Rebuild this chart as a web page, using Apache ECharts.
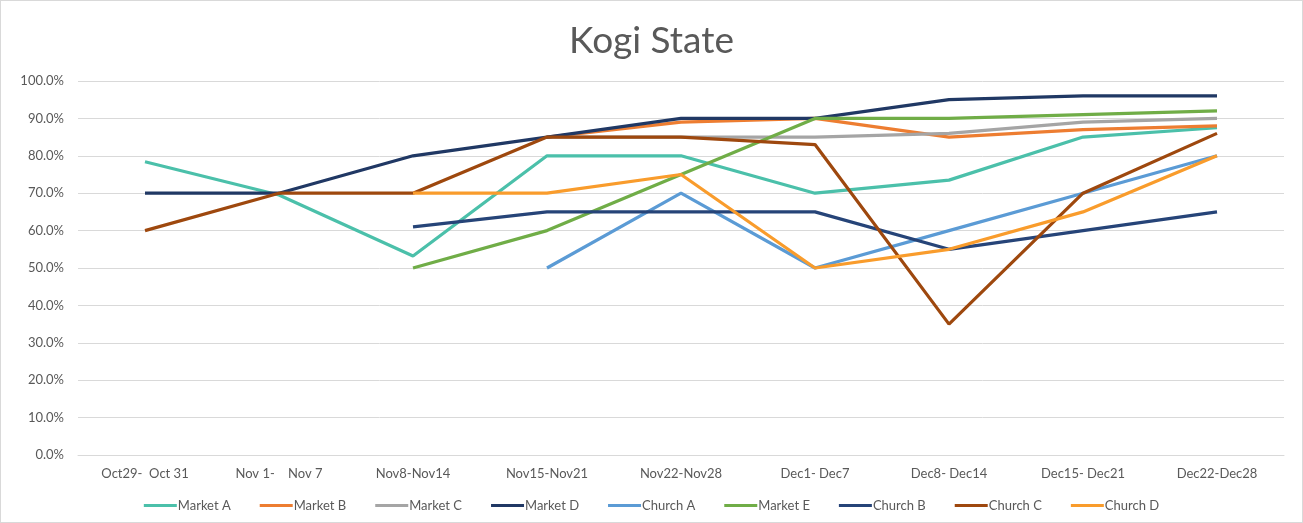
<!DOCTYPE html>
<html>
<head>
<meta charset="utf-8">
<title>Kogi State</title>
<script src="https://cdn.jsdelivr.net/npm/echarts@6/dist/echarts.min.js"></script>
<style>
  html, body { margin: 0; padding: 0; background: #fff; }
  #chart { width: 1301px; height: 521px; border: 1px solid #d9d9d9; }
</style>
</head>
<body>
<div id="chart"></div>
<script>
  // weeks
  var categories = ['Oct29-  Oct 31', 'Nov 1-    Nov 7', 'Nov8-Nov14', 'Nov15-Nov21', 'Nov22-Nov28',
    'Dec1- Dec7', 'Dec8- Dec14', 'Dec15- Dec21', 'Dec22-Dec28']

  var marketA = [78.4, 69.5, 53.2, 80, 80, 70, 73.5, 85, 87.5]
  var marketB = [null, null, null, 85, 89, 90, 85, 87, 88]
  var marketC = [null, null, null, 85, 85, 85, 86, 89, 90]
  var marketD = [70, 70, 80, 85, 90, 90, 95, 96, 96]
  var churchA = [null, null, null, 50, 70, 50, 60, 70, 80]
  var marketE = [null, null, 50, 60, 75, 90, 90, 91, 92]
  var churchB = [null, null, 61, 65, 65, 65, 55, 60, 65]
  var churchC = [60, 70, 70, 85, 85, 83, 35, 70, 86]
  var churchD = [null, null, 70, 70, 75, 50, 55, 65, 80]

  var seriesNames = ['Market A', 'Market B', 'Market C', 'Market D', 'Church A', 'Market E', 'Church B', 'Church C', 'Church D']
  var seriesData = [marketA, marketB, marketC, marketD, churchA, marketE, churchB, churchC, churchD]
  var colors = ['#4bc0aa', '#ed7d31', '#a5a5a5', '#203864', '#5b9bd5', '#70ad47', '#264478', '#9e480e', '#f99c2c']

  var chart = echarts.init(document.getElementById('chart'))
  var font = 'Lato, "Open Sans", sans-serif'

  chart.setOption({
    animation: false,
    color: colors,
    title: {
      text: 'Kogi State',
      left: 'center',
      top: 17,
      textStyle: { fontFamily: font, fontSize: 37, fontWeight: 'normal', color: '#595959' }
    },
    grid: { left: 77, right: 18, top: 80, bottom: 67 },
    legend: {
      data: seriesNames,
      bottom: 5,
      left: 'center',
      icon: 'rect',
      itemWidth: 33,
      itemHeight: 3,
      itemGap: 29,
      textStyle: { fontFamily: font, fontSize: 13, color: '#595959', padding: [0, 0, 0, -4] }
    },
    xAxis: {
      type: 'category',
      data: categories,
      axisLine: { lineStyle: { color: '#d9d9d9' } },
      axisTick: { show: false },
      axisLabel: { fontFamily: font, fontSize: 13, color: '#595959', margin: 12 }
    },
    yAxis: {
      type: 'value',
      min: 0,
      max: 100,
      interval: 10,
      axisLine: { show: false },
      axisTick: { show: false },
      splitLine: { lineStyle: { color: '#d9d9d9' } },
      axisLabel: {
        fontFamily: font, fontSize: 13, color: '#595959', margin: 14,
        formatter: function (v) { return v.toFixed(1) + '%' }
      }
    },
    series: seriesNames.map(function (name, i) {
      return {
        name: name,
        type: 'line',
        data: seriesData[i],
        showSymbol: false,
        symbol: 'none',
        lineStyle: { width: 3.2 }
      }
    })
  })
</script>
</body>
</html>
